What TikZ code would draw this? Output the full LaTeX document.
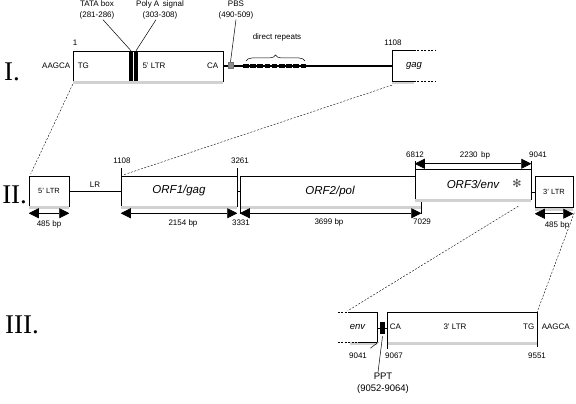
\documentclass[tikz,border=0pt]{standalone}
\usepackage{fontspec}
\setmainfont{Liberation Sans}
\newfontfamily\romfont{Liberation Serif}
\newfontfamily\symfont{DejaVu Sans}
\usepackage{tikz}
\usetikzlibrary{arrows.meta,decorations.pathreplacing}
\tikzset{
 seg/.style
  = {rectangle, draw, fill=white, inner sep=0pt, line width=0.5pt, minimum height=30pt},
 bar/.style
  = {rectangle, fill=black, inner sep=0pt, minimum width=4pt, minimum height=30pt},
 lbl/.style
  = {font=\fontsize{8}{9}\selectfont, inner sep=0.5pt},
 tag/.style
  = {font=\fontsize{8}{10.5}\selectfont, inner sep=0.5pt, align=center},
 orf/.style
  = {font=\fontsize{11.5}{12}\selectfont\itshape},
 rom/.style
  = {font=\fontsize{27}{28}\romfont, anchor=base west, inner sep=0pt},
 bp/.style
  = {draw, {Triangle[length=10pt,width=10pt]}-{Triangle[length=10pt,width=10pt]}, line width=0.6pt},
 zl/.style
  = {draw, dash pattern=on 2pt off 1.5pt, line width=0.4pt},
 shd/.style
  = {fill=black!18},
}
\begin{document}
\begin{tikzpicture}[x=1pt, y=-1pt, line width=0.5pt]
\useasboundingbox (0,0) rectangle (576,404);

% Row numbers
\node[rom] (numI) at (4,81) {I.};
\node[rom] (numII) at (2,203) {II.};
\node[rom] (numIII) at (5,333) {III.};

% Row I: 5' LTR and leader
\node[seg, minimum width=150pt] (ltrI) at (148,66) {};
\fill[shd] (ltrI.south west) rectangle ([yshift=-3pt]ltrI.south east);
\node[bar] (tata) at (131,66) {};
\node[bar] (polya) at (136,66) {};
\node[lbl, anchor=east] (aagcaI) at (71,66) {AAGCA};
\node[lbl, anchor=west] (tgI) at (77,66) {TG};
\node[lbl] (nameI) at (154,66) {5' LTR};
\node[lbl, anchor=east] (caI) at (219,66) {CA};
\node[lbl] (startI) at (75,43) {1};

\node[tag] (tatalbl) at (97,10) {TATA box\\(281-286)};
\node[tag] (polyalbl) at (160,10) {Poly A\,\ signal\\(303-308)};
\node[tag] (pbslbl) at (236,10) {PBS\\(490-509)};
\draw ([xshift=6pt]tatalbl.south) -- (tata.north);
\draw ([xshift=-4pt]polyalbl.south) -- (polya.north);

% gag start
\node[seg, draw=none, fill=none, minimum width=44pt, font=\fontsize{9.5}{10}\selectfont\itshape] (gagI) at (414,66) {gag};
\fill[shd] (gagI.south west) rectangle ([xshift=22pt,yshift=-3pt]gagI.south west);
\draw (gagI.north west) -- (gagI.south west);
\draw (gagI.north west) -- ([xshift=22pt]gagI.north west);
\draw (gagI.south west) -- ([xshift=22pt]gagI.south west);
\draw[dash pattern=on 2pt off 1.5pt] ([xshift=22pt]gagI.north west) -- (gagI.north east);
\draw[dash pattern=on 2pt off 1.5pt] ([xshift=22pt]gagI.south west) -- (gagI.south east);
\node[lbl] (gagnum) at (393,43) {1108};

\draw[line width=1.3pt] (ltrI.east) -- (gagI.west);
\node[rectangle, inner sep=0pt, minimum width=5pt, minimum height=6pt, fill=black!45, draw=black!55, line width=0.3pt] (pbs) at (230.5,65) {};
\draw (pbslbl.south) -- (pbs.north);

% direct repeats
\coordinate (repA) at (243,66);
\coordinate (repB) at (307,66);
\draw[line width=3.5pt, dash pattern=on 5.6pt off 1.6pt] (repA) -- (repB);
\draw[decorate, decoration={brace, amplitude=6pt}] (246,61) -- (305,61);
\node[lbl] (replbl) at (277,37) {direct repeats};

% Row II: provirus
\node[seg, minimum width=40pt] (ltr5) at (49,191) {\fontsize{7.5}{8}\selectfont 5' LTR};
\node[seg, minimum width=116pt, orf] (orf1) at (179,191) {ORF1/gag};
\node[seg, minimum width=181pt, orf] (orf2) at (330.5,191) {};
\node[orf] (orf2lbl) at (330,192) {ORF2/pol};
\fill[shd] (ltr5.south west) rectangle ([yshift=-3pt]ltr5.south east);
\fill[shd] (orf1.south west) rectangle ([yshift=-3pt]orf1.south east);
\fill[shd] (orf2.south west) rectangle ([yshift=-3pt]orf2.south east);
\node[seg, minimum width=116pt, orf] (orf3) at (473,184) {ORF3/env};
\fill[shd] (orf3.south west) rectangle ([yshift=-3pt]orf3.south east);
\node[font=\fontsize{11}{11}\symfont, text=black!70] (star) at (517,183) {✻};
\node[seg, minimum width=38pt, minimum height=31pt] (ltr3) at (554,192) {\fontsize{7.5}{8}\selectfont 3' LTR};
\fill[shd] (ltr3.south west) rectangle ([yshift=-3pt]ltr3.south east);

\draw[line width=1pt] (ltr5.east) -- (orf1.west);
\node[lbl] (lrlbl) at (95,185) {LR};
\draw[line width=1pt] (orf1.east) -- (orf2.west);
\draw[line width=1pt] (ltr3.west) -- ++(-4,0);

% ticks
\draw (orf1.north west) -- ++(0,-8);
\draw (orf1.north east) -- ++(0,-8);
\draw (orf2.south west) -- ++(0,8);
\draw (orf2.south east) -- ++(0,8);
\draw (orf3.north west) -- ++(0,-8);
\draw (orf3.north east) -- ++(0,-8);

% lengths
\draw[bp] ([yshift=-7pt]ltr5.south west) -- ([yshift=-7pt]ltr5.south east);
\draw[bp] ([yshift=-7pt]orf1.south west) -- ([yshift=-7pt]orf1.south east);
\draw[bp] ([yshift=-7pt]orf2.south west) -- ([yshift=-7pt]orf2.south east);
\draw[bp] ([yshift=5pt]orf3.north west) -- ([yshift=5pt]orf3.north east);
\draw[bp] ([yshift=-6pt]ltr3.south west) -- ([yshift=-6pt]ltr3.south east);
\node[lbl] (bp5) at (49,224) {485 bp};
\node[lbl] (bp1) at (183,223) {2154 bp};
\node[lbl] (bp2) at (329,222) {3699 bp};
\node[lbl] (bp3) at (475,155) {2230\,\ bp};
\node[lbl] (bp3l) at (557,225) {485 bp};

\node[lbl] (p1108) at (122,161) {1108};
\node[lbl] (p3261) at (240,161) {3261};
\node[lbl] (p3331) at (241,223) {3331};
\node[lbl] (p7029) at (422,222) {7029};
\node[lbl] (p6812) at (415,155) {6812};
\node[lbl] (p9041) at (538,155) {9041};

% Row III: 3' end
\node[seg, draw=none, fill=none, minimum width=39pt, font=\fontsize{9.5}{10}\selectfont\itshape] (envIII) at (357.5,327) {env};
\fill[shd] ([xshift=12pt]envIII.south west) rectangle ([yshift=-3pt]envIII.south east);
\draw (envIII.north east) -- (envIII.south east);
\draw ([xshift=10pt]envIII.north west) -- (envIII.north east);
\draw ([xshift=20pt]envIII.south west) -- (envIII.south east);
\draw[dash pattern=on 2pt off 1.5pt] (envIII.north west) -- ([xshift=10pt]envIII.north west);
\draw[dash pattern=on 2pt off 1.5pt] (envIII.south west) -- ([xshift=20pt]envIII.south west);
\node[rectangle, fill=black, inner sep=0pt, minimum width=5pt, minimum height=12pt] (ppt) at (382.5,328) {};
\node[seg, minimum width=150pt] (ltrIII) at (462,327) {};
\fill[shd] (ltrIII.south west) rectangle ([yshift=-3pt]ltrIII.south east);
\draw (envIII.east |- ppt) -- (ppt.west);
\draw (ppt.east) -- (ltrIII.west |- ppt);
\node[lbl, anchor=west] (caIII) at (389,327) {CA};
\node[lbl] (nameIII) at (455,327) {3' LTR};
\node[lbl, anchor=east] (tgIII) at (535,327) {TG};
\node[lbl, anchor=west] (aagcaIII) at (541,327) {AAGCA};

\draw (ltrIII.south west) -- ++(0,7);
\draw (ltrIII.south east) -- ++(0,5);
\draw ([xshift=1pt]envIII.south east) -- ++(-8,6);
\node[lbl] (p9041b) at (358,356) {9041};
\node[lbl] (p9067) at (394,356) {9067};
\node[lbl] (p9551) at (537,356) {9551};

\node[tag, font=\fontsize{9.5}{11.5}\selectfont] (pptlbl) at (383,383) {PPT\\(9052-9064)};
\draw ([yshift=-2pt]ppt.south) -- ([xshift=-5pt]pptlbl.north);

% Expansion lines
\draw[zl] ([yshift=-3pt]ltrI.south west) -- ([xshift=2pt,yshift=2pt]ltr5.north west);
\draw[zl] ([yshift=-4pt]gagI.south west) -- ([xshift=3pt,yshift=1pt]orf1.north west);
\draw[zl] ([xshift=-13pt,yshift=-7pt]orf3.south east) -- ([xshift=10pt,yshift=1pt]envIII.north west);
\draw[zl] ([xshift=1pt,yshift=-5pt]ltr3.south east) -- (ltrIII.north east);

\end{tikzpicture}
\end{document}
